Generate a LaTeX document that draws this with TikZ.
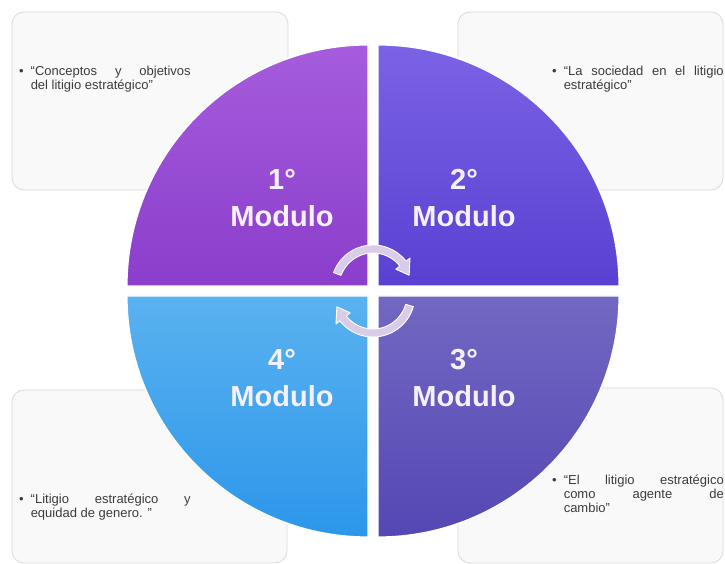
\documentclass[tikz,border=0pt]{standalone}
\usepackage{fontspec}
\setmainfont{Liberation Sans}
\begin{document}
\begin{tikzpicture}[x=1pt,y=1pt]
\definecolor{boxfill}{HTML}{F9F9FA}
\definecolor{boxline}{HTML}{DADADA}
\definecolor{txt}{HTML}{3C3C3C}
\definecolor{qonetop}{HTML}{A65CDD}
\definecolor{qonebot}{HTML}{8A3ECB}
\definecolor{qtwotop}{HTML}{7B62E5}
\definecolor{qtwobot}{HTML}{5A40D2}
\definecolor{qthreetop}{HTML}{7268C2}
\definecolor{qthreebot}{HTML}{5447B4}
\definecolor{qfourtop}{HTML}{5AB2F0}
\definecolor{qfourbot}{HTML}{2C96EA}
\definecolor{arrowfill}{HTML}{D8CCE8}
\definecolor{modtxt}{HTML}{F6F0FC}
\tikzset{
  infobox/.style={fill=boxfill,draw=boxline,line width=0.8pt,rounded corners=12pt},
  quad/.style={draw=white,line width=1.2pt},
  modlabel/.style={text=modtxt,font=\fontsize{29}{37}\selectfont\bfseries,align=center,inner sep=0pt},
  boxtext/.style={text=txt,font=\fontsize{13}{14}\selectfont,inner sep=0pt,anchor=base west},
  cyclearrow/.style={fill=arrowfill,draw=white,line width=0.9pt,line join=round}
}
\path[fill=white,use as bounding box] (0,0) rectangle (725,564);
% info boxes
\draw[infobox] (12,374) rectangle (288,552);
\draw[infobox] (458,374) rectangle (723,552);
\draw[infobox] (12,1) rectangle (287,174);
\draw[infobox] (458,1) rectangle (723,176);
% box texts
\node[boxtext] (t1) at (19,488) {\begin{tabular}[t]{@{}l@{\hspace{7pt}}l@{}}\textbullet & \makebox[160pt][s]{“Conceptos y objetivos}\\ & del litigio estratégico”\end{tabular}};
\node[boxtext] (t2) at (552,488) {\begin{tabular}[t]{@{}l@{\hspace{7pt}}l@{}}\textbullet & \makebox[160pt][s]{“La sociedad en el litigio}\\ & estratégico”\end{tabular}};
\node[boxtext] (t4) at (19,60) {\begin{tabular}[t]{@{}l@{\hspace{7pt}}l@{}}\textbullet & \makebox[160pt][s]{“Litigio estratégico y}\\ & equidad de genero. ”\end{tabular}};
\node[boxtext] (t3) at (552,79) {\begin{tabular}[t]{@{}l@{\hspace{7pt}}l@{}}\textbullet & \makebox[160pt][s]{“El litigio estratégico}\\ & \makebox[160pt][s]{como agente de}\\ & cambio”\end{tabular}};
% quadrants
\path[quad,top color=qonetop,bottom color=qonebot] (368,278) -- (127,278) arc[start angle=180,end angle=90,radius=241] -- cycle;
\path[quad,top color=qtwotop,bottom color=qtwobot] (378,278) -- (378,519) arc[start angle=90,end angle=0,radius=241] -- cycle;
\path[quad,top color=qthreetop,bottom color=qthreebot] (378,268) -- (619,268) arc[start angle=0,end angle=-90,radius=241] -- cycle;
\path[quad,top color=qfourtop,bottom color=qfourbot] (368,268) -- (368,27) arc[start angle=270,end angle=180,radius=241] -- cycle;
% module labels
\node[modlabel] (m1) at (282,365.5) {1°\\Modulo};
\node[modlabel] (m2) at (464,365.5) {2°\\Modulo};
\node[modlabel] (m4) at (282,185.5) {4°\\Modulo};
\node[modlabel] (m3) at (464,185.5) {3°\\Modulo};
% cycle arrows
\begin{scope}[shift={(373,277)}]
\draw[cyclearrow] (160:42) arc[start angle=160,end angle=38,radius=42] -- (38:47) -- (18:38) -- (38:29) -- (38:34) arc[start angle=38,end angle=160,radius=34] -- cycle;
\end{scope}
\begin{scope}[shift={(373,269)}]
\draw[cyclearrow] (-16:42) arc[start angle=-16,end angle=-142,radius=42] -- (-142:47) -- (-162:38) -- (-142:29) -- (-142:34) arc[start angle=-142,end angle=-16,radius=34] -- cycle;
\end{scope}
\end{tikzpicture}
\end{document}
